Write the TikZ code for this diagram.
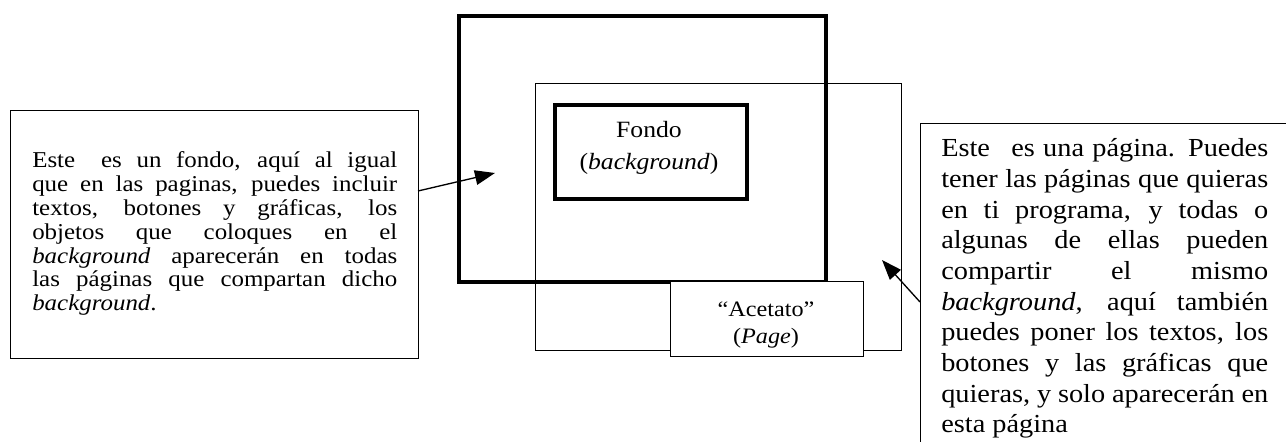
\documentclass[tikz,border=0pt]{standalone}
\usepackage{fontspec}
\setmainfont{Liberation Serif}
\newfontfamily\notefont[FakeStretch=1.1]{Liberation Serif}
\newfontfamily\rnotefont[FakeStretch=1.09]{Liberation Serif}
\newfontfamily\boxfont[FakeStretch=1.1]{Liberation Serif}
\usetikzlibrary{arrows.meta}
\begin{document}
\begin{tikzpicture}[x=0.75pt,y=-0.75pt,
  notebox/.style={draw, line width=1pt, anchor=north west, inner sep=0pt},
  thinbox/.style={draw, line width=0.8pt, anchor=north west, inner sep=0pt},
  thickbox/.style={draw, line width=3pt, anchor=north west, inner sep=0pt},
  lefttext/.style={anchor=base west, inner sep=0pt, align=justify, text width=273.75pt,
    font={\notefont\fontsize{17pt}{17.85pt}\selectfont}},
  righttext/.style={anchor=base west, inner sep=0pt, align=justify, text width=245.25pt,
    font={\rnotefont\fontsize{19.5pt}{23pt}\selectfont}},
  boxtext/.style={anchor=base, inner sep=0pt},
  pointer/.style={-{Triangle[length=15pt,width=11pt]}, line width=1pt}]
\useasboundingbox (0,0) rectangle (1286,442);
\fill[white] (0,0) rectangle (1286,442);
\clip (0,0) rectangle (1286,442);

% page (thin) box
\node[thinbox, minimum width=274.5pt, minimum height=200.25pt] (page) at (535,83) {};
% big background box
\node[thickbox, minimum width=275.25pt, minimum height=199.5pt] (bg) at (457,14) {};
% Fondo box
\node[thickbox, minimum width=144pt, minimum height=70.5pt] (fondo) at (553,103) {};
\node[boxtext, font={\boxfont\fontsize{17.5pt}{20pt}\selectfont}] (fondo1) at (649,138) {Fondo};
\node[boxtext, font={\boxfont\fontsize{17.5pt}{20pt}\selectfont}] (fondo2) at (649,170) {(\textit{background})};
% Acetato box
\node[thinbox, fill=white, minimum width=144.75pt, minimum height=56.25pt] (acet) at (670,281) {};
\node[boxtext, font={\boxfont\fontsize{16.5pt}{18pt}\selectfont}] (acet1) at (766,316) {“Acetato”};
\node[boxtext, font={\boxfont\fontsize{16.5pt}{18pt}\selectfont}] (acet2) at (766,344) {(\textit{Page})};

% left note
\node[notebox, minimum width=306pt, minimum height=186pt] (leftbox) at (10,110) {};
\node[lefttext] (lefttxt) at (32,168) {Este\hspace{0.5em} es un fondo, aquí al igual\linebreak
que en las paginas, puedes incluir\linebreak
textos, botones y gráficas, los\linebreak
objetos que coloques en el\linebreak
\textit{background} aparecerán en todas\linebreak
las páginas que compartan dicho\linebreak
\textit{background}.};

% right note
\node[notebox, minimum width=285pt, minimum height=252.75pt] (rightbox) at (920,123) {};
\node[righttext] (righttxt) at (941,157) {Este\hspace{0.5em} es una página. Puedes\linebreak
tener las páginas que quieras\linebreak
en ti programa, y todas o\linebreak
algunas de ellas pueden\linebreak
compartir el mismo\linebreak
\textit{background}, aquí también\linebreak
puedes poner los textos, los\linebreak
botones y las gráficas que\linebreak
quieras, y solo aparecerán en\linebreak
esta página};

% arrows
\coordinate (ls) at (418,191);
\coordinate (lt) at (495,173);
\coordinate (rs) at (920,302);
\coordinate (rt) at (882,260);
\draw[pointer] (ls) -- (lt);
\draw[pointer] (rs) -- (rt);
\end{tikzpicture}
\end{document}
